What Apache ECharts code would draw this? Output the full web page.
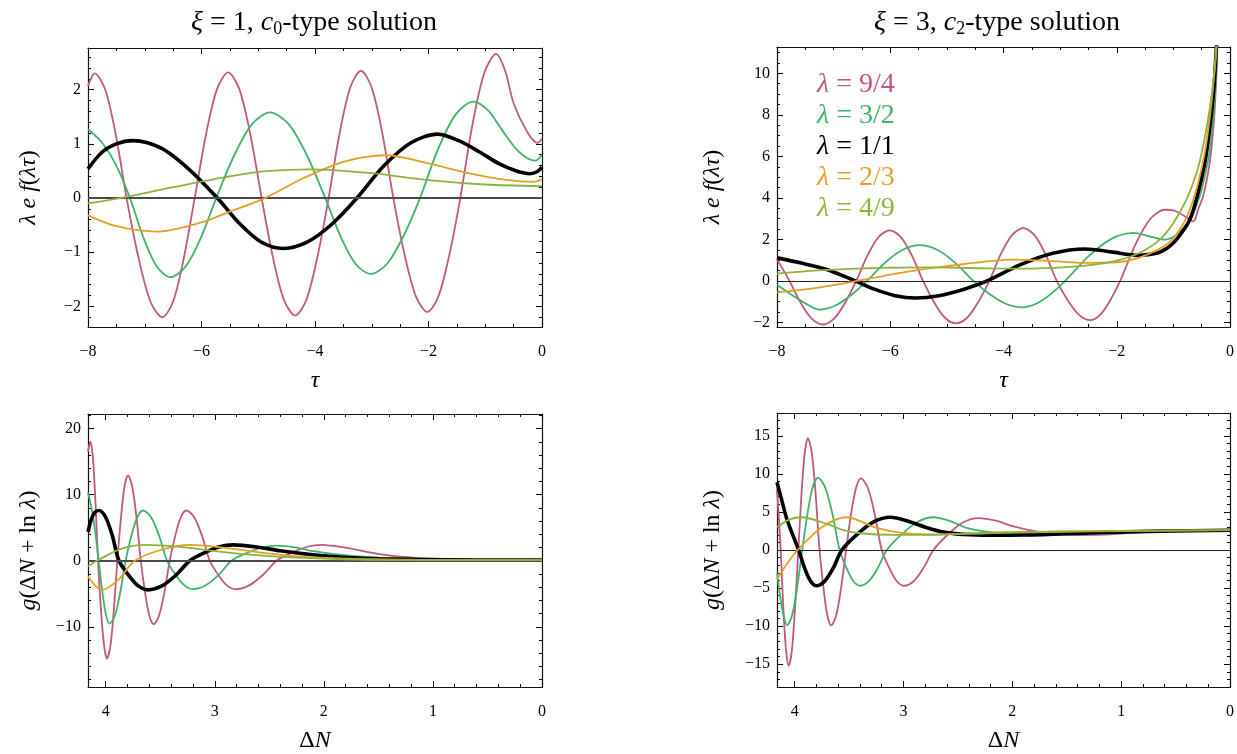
<!DOCTYPE html>
<html><head><meta charset="utf-8">
<script src="https://cdn.jsdelivr.net/npm/echarts@6/dist/echarts.min.js"></script>
<style>html,body{margin:0;padding:0;background:#fff}#c{width:1237px;height:754px}</style>
</head><body><div id="c"></div>
<script>
// ---------- names, colours ----------
const SERIES_NAMES = ['λ = 9/4', 'λ = 3/2', 'λ = 1/1', 'λ = 2/3', 'λ = 4/9'];
const COLORS = ['#c2577f', '#3db46a', '#000000', '#e89e20', '#8cb33a'];
const WIDTHS = [1.8, 1.8, 3.6, 1.8, 1.8];

// ---------- tick labels ----------
const P1_X_TICKS = [-8, -6, -4, -2, 0];
const P1_Y_TICKS = [-2, -1, 0, 1, 2];
const P2_X_TICKS = [-8, -6, -4, -2, 0];
const P2_Y_TICKS = [-2, 0, 2, 4, 6, 8, 10];
const P3_X_TICKS = [0, 1, 2, 3, 4];
const P3_Y_TICKS = [-10, 0, 10, 20];
const P4_X_TICKS = [0, 1, 2, 3, 4];
const P4_Y_TICKS = [-15, -10, -5, 0, 5, 10, 15];

// ---------- panel 1 : xi = 1, c0-type, lambda e f(lambda tau) vs tau ----------
const p1_pink = [[-8,2.07],[-7.88,2.30],[-7.693,1.99],[-7.507,1.15],[-7.32,0],[-7.11,-1.10],[-6.90,-1.91],[-6.69,-2.20],[-6.50,-1.91],[-6.31,-1.10],[-6.12,0],[-5.923,1.16],[-5.727,2.01],[-5.53,2.32],[-5.333,2.01],[-5.137,1.16],[-4.94,0],[-4.743,-1.085],[-4.547,-1.88],[-4.35,-2.17],[-4.153,-1.88],[-3.957,-1.085],[-3.76,0],[-3.57,1.175],[-3.38,2.035],[-3.19,2.35],[-3.0,2.035],[-2.81,1.175],[-2.62,0],[-2.42,-1.05],[-2.22,-1.82],[-2.02,-2.10],[-1.827,-1.82],[-1.633,-1.05],[-1.44,0],[-1.23,1.33],[-1.02,2.30],[-0.81,2.66],[-0.65,2.35],[-0.50,1.75],[-0.26,1.22],[-0.08,1.02],[0,1.10]];
const p1_green = [[-8,1.27],[-7.75,1.02],[-7.5,0.6],[-7.26,0],[-7.023,-0.73],[-6.787,-1.264],[-6.55,-1.46],[-6.28,-1.264],[-6.01,-0.73],[-5.74,0],[-5.423,0.79],[-5.107,1.368],[-4.79,1.58],[-4.467,1.368],[-4.143,0.79],[-3.82,0],[-3.553,-0.70],[-3.287,-1.212],[-3.02,-1.40],[-2.73,-1.212],[-2.44,-0.70],[-2.15,0],[-1.837,0.89],[-1.523,1.54],[-1.21,1.78],[-0.95,1.62],[-0.7,1.25],[-0.45,0.90],[-0.25,0.73],[-0.12,0.69],[0,0.80]];
const p1_black = [[-8,0.54],[-7.75,0.85],[-7.5,1.0],[-7.21,1.06],[-6.71,0.92],[-6.22,0.53],[-5.72,0],[-5.33,-0.47],[-4.95,-0.81],[-4.56,-0.93],[-4.13,-0.81],[-3.69,-0.47],[-3.26,0],[-2.79,0.59],[-2.31,1.02],[-1.84,1.18],[-1.45,1.05],[-1.1,0.85],[-0.75,0.63],[-0.45,0.50],[-0.21,0.45],[-0.08,0.49],[0,0.57]];
const p1_orange = [[-8,-0.32],[-7.5,-0.52],[-6.79,-0.62],[-6.0,-0.45],[-5.5,-0.25],[-4.88,0],[-4.2,0.37],[-3.5,0.67],[-2.75,0.79],[-2.0,0.64],[-1.3,0.46],[-0.6,0.33],[-0.15,0.30],[0,0.35]];
const p1_olive = [[-8,-0.10],[-7.44,0],[-6.5,0.20],[-5.5,0.40],[-4.8,0.50],[-4.09,0.53],[-3.0,0.46],[-2.0,0.33],[-1.0,0.25],[0,0.22]];

// ---------- panel 2 : xi = 3, c2-type ----------
const p2_pink = [[-8,1.03],[-7.89,0.53],[-7.78,0],[-7.583,-1.05],[-7.387,-1.82],[-7.19,-2.10],[-6.993,-1.82],[-6.797,-1.05],[-6.60,0],[-6.403,1.22],[-6.207,2.11],[-6.01,2.44],[-5.813,2.11],[-5.617,1.22],[-5.42,0],[-5.227,-1.025],[-5.033,-1.775],[-4.84,-2.05],[-4.643,-1.775],[-4.447,-1.025],[-4.25,0],[-4.05,1.275],[-3.85,2.21],[-3.65,2.55],[-3.453,2.21],[-3.257,1.275],[-3.06,0],[-2.863,-0.945],[-2.667,-1.637],[-2.47,-1.89],[-2.293,-1.637],[-2.117,-0.945],[-1.94,0],[-1.677,1.715],[-1.413,2.97],[-1.15,3.43],[-1.0,3.40],[-0.89,3.27],[-0.76,3.05],[-0.65,2.87],[-0.61,3.0],[-0.564,3.43],[-0.476,4.08],[-0.388,5.2],[-0.33,6.32],[-0.287,7.6],[-0.252,9.2],[-0.23,10.8],[-0.215,12.5]];
const p2_green = [[-8,-0.18],[-7.75,-0.65],[-7.5,-1.08],[-7.26,-1.38],[-6.977,-1.195],[-6.693,-0.69],[-6.41,0],[-6.1,0.86],[-5.79,1.49],[-5.48,1.72],[-5.163,1.49],[-4.847,0.86],[-4.53,0],[-4.247,-0.635],[-3.963,-1.10],[-3.68,-1.27],[-3.423,-1.10],[-3.167,-0.635],[-2.91,0],[-2.51,1.155],[-2.11,2.0],[-1.71,2.31],[-1.42,2.15],[-1.15,1.99],[-0.946,2.23],[-0.71,2.95],[-0.535,4.08],[-0.42,5.36],[-0.346,6.48],[-0.287,8.09],[-0.25,9.7],[-0.225,11.27],[-0.21,12.5]];
const p2_black = [[-8,1.11],[-7.59,0.87],[-7.12,0.55],[-6.62,0],[-6.27,-0.41],[-5.91,-0.71],[-5.56,-0.82],[-5.14,-0.71],[-4.71,-0.41],[-4.29,0],[-3.71,0.77],[-3.13,1.33],[-2.56,1.54],[-2.1,1.40],[-1.62,1.24],[-1.3,1.33],[-1.1,1.6],[-0.946,1.99],[-0.71,2.95],[-0.564,4.24],[-0.446,5.68],[-0.36,7.29],[-0.287,9.2],[-0.24,11.27],[-0.22,12.5]];
const p2_orange = [[-8,-0.55],[-7.3,-0.33],[-6.59,0],[-5.82,0.39],[-5.0,0.71],[-3.82,1.03],[-3.2,0.97],[-2.65,0.87],[-2.0,0.90],[-1.59,1.13],[-1.12,1.75],[-0.887,2.47],[-0.71,3.43],[-0.564,4.72],[-0.446,6.17],[-0.36,7.8],[-0.287,9.7],[-0.245,11.27],[-0.225,12.5]];
const p2_olive = [[-8,0.35],[-7.2,0.52],[-6.2,0.63],[-5.2,0.65],[-4.2,0.60],[-3.5,0.59],[-2.9,0.66],[-2.4,0.79],[-2.0,0.98],[-1.59,1.36],[-1.24,1.99],[-1.0,2.79],[-0.77,3.92],[-0.59,5.2],[-0.476,6.48],[-0.36,8.25],[-0.27,10.2],[-0.235,11.27],[-0.22,12.5]];

// ---------- panel 3 : xi = 1, g(DeltaN + ln lambda) vs DeltaN ----------
const p3_pink = [[4.162,16.5],[4.141,18.0],[4.117,15.6],[4.094,9.0],[4.070,0],[4.043,-7.4],[4.015,-12.8],[3.988,-14.8],[3.956,-12.8],[3.925,-7.4],[3.893,0],[3.86,6.45],[3.828,11.17],[3.795,12.9],[3.756,11.17],[3.717,6.45],[3.678,0],[3.639,-4.8],[3.599,-8.31],[3.560,-9.6],[3.511,-8.31],[3.462,-4.8],[3.413,0],[3.362,3.8],[3.311,6.58],[3.260,7.6],[3.189,6.58],[3.117,3.8],[3.046,0],[2.967,-2.15],[2.889,-3.72],[2.810,-4.3],[2.685,-3.72],[2.559,-2.15],[2.434,0],[2.296,1.2],[2.159,2.08],[2.021,2.4],[1.79,1.95],[1.49,1.0],[1.18,0.45],[0.875,0.2],[0.5,0.12],[0,0.1]];
const p3_green = [[4.162,10.3],[4.13,8.0],[4.097,4.5],[4.064,0],[4.03,-4.75],[3.997,-8.23],[3.963,-9.5],[3.914,-8.23],[3.866,-4.75],[3.817,0],[3.764,3.8],[3.71,6.58],[3.657,7.6],[3.584,6.58],[3.51,3.8],[3.437,0],[3.358,-2.15],[3.278,-3.72],[3.199,-4.3],[3.082,-3.72],[2.964,-2.15],[2.847,0],[2.709,1.15],[2.571,1.99],[2.434,2.3],[2.25,2.0],[2.098,1.45],[1.79,0.8],[1.49,0.45],[1.18,0.2],[0.6,0.12],[0,0.1]];
const p3_black = [[4.162,4.36],[4.131,6.3],[4.1,7.3],[4.061,7.6],[4.0,6.58],[3.939,3.8],[3.878,0],[3.789,-2.2],[3.701,-3.81],[3.612,-4.4],[3.484,-3.81],[3.357,-2.2],[3.229,0],[3.097,1.2],[2.964,2.08],[2.832,2.4],[2.6,2.05],[2.4,1.5],[2.1,0.9],[1.79,0.5],[1.49,0.3],[1.18,0.2],[0.6,0.12],[0,0.1]];
const p3_orange = [[4.162,-2.4],[4.1,-3.7],[4.031,-4.4],[3.88,-2.8],[3.734,0],[3.48,1.7],[3.229,2.4],[2.832,1.8],[2.557,1.2],[2.25,0.65],[1.79,0.3],[1.18,0.15],[0,0.1]];
const p3_olive = [[4.162,-0.8],[4.08,0],[3.86,1.8],[3.642,2.4],[3.32,2.1],[3.015,1.5],[2.71,0.95],[2.40,0.6],[1.94,0.3],[1.49,0.15],[0,0.1]];

// ---------- panel 4 : xi = 3 ----------
const p4_pink = [[4.162,8.0],[4.145,4.2],[4.128,0],[4.104,-7.6],[4.079,-13.16],[4.055,-15.2],[4.025,-13.16],[3.996,-7.6],[3.966,0],[3.937,7.35],[3.907,12.73],[3.878,14.7],[3.842,12.73],[3.807,7.35],[3.771,0],[3.735,-4.95],[3.70,-8.57],[3.664,-9.9],[3.618,-8.57],[3.573,-4.95],[3.527,0],[3.482,4.7],[3.436,8.14],[3.391,9.4],[3.327,8.14],[3.264,4.7],[3.2,0],[3.131,-2.35],[3.063,-4.07],[2.994,-4.7],[2.904,-4.07],[2.815,-2.35],[2.725,0],[2.587,2.1],[2.45,3.64],[2.312,4.2],[2.15,3.85],[1.99,3.1],[1.716,2.27],[1.41,1.97],[1.10,2.05],[0.80,2.36],[0.34,2.53],[0,2.6]];
const p4_green = [[4.162,-3.0],[4.131,-6.3],[4.1,-8.7],[4.07,-9.9],[4.023,-8.57],[3.977,-4.95],[3.93,0],[3.882,4.75],[3.834,8.23],[3.786,9.5],[3.72,8.23],[3.653,4.75],[3.587,0],[3.524,-2.35],[3.461,-4.07],[3.398,-4.7],[3.316,-4.07],[3.235,-2.35],[3.153,0],[3.01,2.15],[2.868,3.72],[2.725,4.3],[2.57,3.8],[2.42,2.9],[2.17,2.27],[1.87,2.05],[1.56,2.05],[1.26,2.36],[0.80,2.48],[0,2.6]];
const p4_black = [[4.162,8.9],[4.116,6.4],[4.07,4.0],[3.963,0],[3.909,-2.35],[3.854,-4.07],[3.80,-4.7],[3.722,-4.07],[3.644,-2.35],[3.566,0],[3.418,2.15],[3.27,3.72],[3.122,4.3],[2.95,3.75],[2.8,3.0],[2.63,2.35],[2.45,2.05],[2.2,1.95],[1.87,1.97],[1.26,2.27],[0.645,2.48],[0,2.6]];
const p4_orange = [[4.162,-3.85],[4.07,-1.8],[3.972,0],[3.75,3.0],[3.526,4.3],[3.245,2.9],[3.03,2.27],[2.79,2.05],[2.33,2.14],[1.87,2.36],[1.26,2.48],[0,2.6]];
const p4_olive = [[4.162,3.0],[4.05,4.0],[3.933,4.3],[3.70,3.4],[3.55,2.6],[3.40,2.2],[3.09,2.0],[2.79,2.0],[2.17,2.3],[1.26,2.45],[0,2.6]];

// ---------- layout ----------
const SERIF = 'Liberation Serif, DejaVu Serif, serif';
const PANELS = [
  { grid: {left: 88, top: 48, width: 454, height: 279}, xMin: -8, xMax: 0, inverse: false,
    yMin: -2.38, yMax: 2.77, xTicks: P1_X_TICKS, xMinor: 0.5, yTicks: P1_Y_TICKS, yMinor: 0.2,
    zeroColor: '#4a4a4a', zeroWidth: 1.8,
    xName: '{i|τ}', yName: '{i|λ e f}({i|λτ})', data: [p1_pink, p1_green, p1_black, p1_orange, p1_olive] },
  { grid: {left: 777, top: 47, width: 453, height: 280}, xMin: -8, xMax: 0, inverse: false,
    yMin: -2.22, yMax: 11.27, xTicks: P2_X_TICKS, xMinor: 0.5, yTicks: P2_Y_TICKS, yMinor: 0.5,
    zeroColor: '#222', zeroWidth: 1.1,
    xName: '{i|τ}', yName: '{i|λ e f}({i|λτ})', data: [p2_pink, p2_green, p2_black, p2_orange, p2_olive] },
  { grid: {left: 88, top: 414, width: 454, height: 278}, xMin: 0, xMax: 4.162, inverse: true,
    yMin: -19.1, yMax: 22.2, xTicks: P3_X_TICKS, xMinor: 0.2, yTicks: P3_Y_TICKS, yMinor: 2,
    zeroColor: '#4a4a4a', zeroWidth: 1.8,
    xName: 'Δ{i|N}', yName: '{i|g}(Δ{i|N} + ln {i|λ})', data: [p3_pink, p3_green, p3_black, p3_orange, p3_olive] },
  { grid: {left: 777, top: 413, width: 453, height: 280}, xMin: 0, xMax: 4.162, inverse: true,
    yMin: -18, yMax: 18, xTicks: P4_X_TICKS, xMinor: 0.2, yTicks: P4_Y_TICKS, yMinor: 1,
    zeroColor: '#222', zeroWidth: 1.1,
    xName: 'Δ{i|N}', yName: '{i|g}(Δ{i|N} + ln {i|λ})', data: [p4_pink, p4_green, p4_black, p4_orange, p4_olive] }
];

function minors(min, max, step) {
  const out = [];
  for (let k = Math.ceil(min / step - 1e-9); k * step <= max + 1e-9; k++) out.push(+(k * step).toFixed(6));
  return out;
}
const fmt = v => String(v).replace('-', '\u2212');
const nameRich = { i: { fontStyle: 'italic', fontSize: 24, fontFamily: SERIF, color: '#000' } };

const grids = [], xAxes = [], yAxes = [], series = [];
PANELS.forEach((p, gi) => {
  grids.push(p.grid);
  const xMinorVals = minors(p.xMin, p.xMax, p.xMinor);
  const yMinorVals = minors(p.yMin, p.yMax, p.yMinor);
  const base = (min, max, inv) => ({ type: 'value', gridIndex: gi, min, max, inverse: !!inv, splitLine: {show: false} });
  const frame = {show: true, onZero: false, lineStyle: {color: '#111', width: 1.2}};
  xAxes.push(Object.assign(base(p.xMin, p.xMax, p.inverse), {
    position: 'bottom', axisLine: frame,
    axisTick: {show: true, inside: true, length: 6, customValues: p.xTicks, lineStyle: {color: '#000'}},
    axisLabel: {show: true, customValues: p.xTicks, formatter: fmt, margin: 17, fontSize: 16, color: '#000', fontFamily: SERIF},
    name: p.xName, nameLocation: 'middle', nameGap: 42,
    nameTextStyle: {fontSize: 24, fontFamily: SERIF, color: '#000', rich: nameRich}
  }));
  xAxes.push(Object.assign(base(p.xMin, p.xMax, p.inverse), {
    position: 'bottom', axisLine: {show: false, onZero: false},
    axisTick: {show: true, inside: true, length: 3, customValues: xMinorVals, lineStyle: {color: '#000'}},
    axisLabel: {show: false}
  }));
  xAxes.push(Object.assign(base(p.xMin, p.xMax, p.inverse), {
    position: 'top', axisLine: frame,
    axisTick: {show: true, inside: true, length: 6, customValues: p.xTicks, lineStyle: {color: '#000'}},
    axisLabel: {show: false}
  }));
  xAxes.push(Object.assign(base(p.xMin, p.xMax, p.inverse), {
    position: 'top', axisLine: {show: false, onZero: false},
    axisTick: {show: true, inside: true, length: 3, customValues: xMinorVals, lineStyle: {color: '#000'}},
    axisLabel: {show: false}
  }));
  yAxes.push(Object.assign(base(p.yMin, p.yMax, false), {
    position: 'left', axisLine: frame,
    axisTick: {show: true, inside: true, length: 6, customValues: p.yTicks, lineStyle: {color: '#000'}},
    axisLabel: {show: true, customValues: p.yTicks, formatter: fmt, margin: 7, fontSize: 16, color: '#000', fontFamily: SERIF},
    name: p.yName, nameLocation: 'middle', nameGap: gi % 2 === 0 ? 47 : 52, nameRotate: 90,
    nameTextStyle: {fontSize: 24, fontFamily: SERIF, color: '#000', rich: nameRich}
  }));
  yAxes.push(Object.assign(base(p.yMin, p.yMax, false), {
    position: 'left', axisLine: {show: false, onZero: false},
    axisTick: {show: true, inside: true, length: 3, customValues: yMinorVals, lineStyle: {color: '#000'}},
    axisLabel: {show: false}
  }));
  yAxes.push(Object.assign(base(p.yMin, p.yMax, false), {
    position: 'right', axisLine: frame,
    axisTick: {show: true, inside: true, length: 6, customValues: p.yTicks, lineStyle: {color: '#000'}},
    axisLabel: {show: false}
  }));
  yAxes.push(Object.assign(base(p.yMin, p.yMax, false), {
    position: 'right', axisLine: {show: false, onZero: false},
    axisTick: {show: true, inside: true, length: 3, customValues: yMinorVals, lineStyle: {color: '#000'}},
    axisLabel: {show: false}
  }));
  series.push({
    type: 'line', name: 'zero' + gi, xAxisIndex: gi * 4, yAxisIndex: gi * 4, data: [], z: 1, silent: true,
    markLine: {silent: true, symbol: 'none', label: {show: false}, animation: false,
      lineStyle: {color: p.zeroColor, width: p.zeroWidth, type: 'solid'}, data: [{yAxis: 0}]}
  });
  p.data.forEach((d, si) => {
    series.push({
      type: 'line', name: SERIES_NAMES[si], xAxisIndex: gi * 4, yAxisIndex: gi * 4,
      data: d, showSymbol: false, smooth: 0.3, z: 2 + si, animation: false,
      lineStyle: {color: COLORS[si], width: WIDTHS[si]}, itemStyle: {color: COLORS[si]}
    });
  });
});

const titleRich = {
  i: {fontStyle: 'italic', fontSize: 28, fontFamily: SERIF, color: '#000', lineHeight: 30},
  s: {fontSize: 18, fontFamily: SERIF, color: '#000', lineHeight: 18, verticalAlign: 'bottom'}
};
const legendRich = {
  i: {fontStyle: 'italic', fontSize: 28, fontFamily: SERIF, lineHeight: 27},
  e: {fontSize: 28, fontFamily: SERIF, lineHeight: 27}
};
const option = {
  animation: false,
  backgroundColor: '#fff',
  title: [
    {text: '{i|ξ} = 1, {i|c}{s|0}-type solution', left: 309, top: 3, textAlign: 'center',
     textStyle: {fontSize: 28, fontWeight: 'normal', fontFamily: SERIF, color: '#000', lineHeight: 30, rich: titleRich}},
    {text: '{i|ξ} = 3, {i|c}{s|2}-type solution', left: 992, top: 3, textAlign: 'center',
     textStyle: {fontSize: 28, fontWeight: 'normal', fontFamily: SERIF, color: '#000', lineHeight: 30, rich: titleRich}}
  ],
  legend: {
    orient: 'vertical', left: 812, top: 71, itemWidth: 0, itemHeight: 0, itemGap: 3, icon: 'none',
    selectedMode: false, padding: 0,
    data: SERIES_NAMES.map((n, i) => ({name: n, textStyle: {color: COLORS[i]}})),
    formatter: n => '{i|λ} {e|=} ' + n.slice(4),
    textStyle: {fontSize: 28, lineHeight: 27, fontFamily: SERIF, rich: legendRich}
  },
  grid: grids, xAxis: xAxes, yAxis: yAxes, series: series
};
const chart = echarts.init(document.getElementById('c'), null, {renderer: 'canvas'});
chart.setOption(option);
</script></body></html>
